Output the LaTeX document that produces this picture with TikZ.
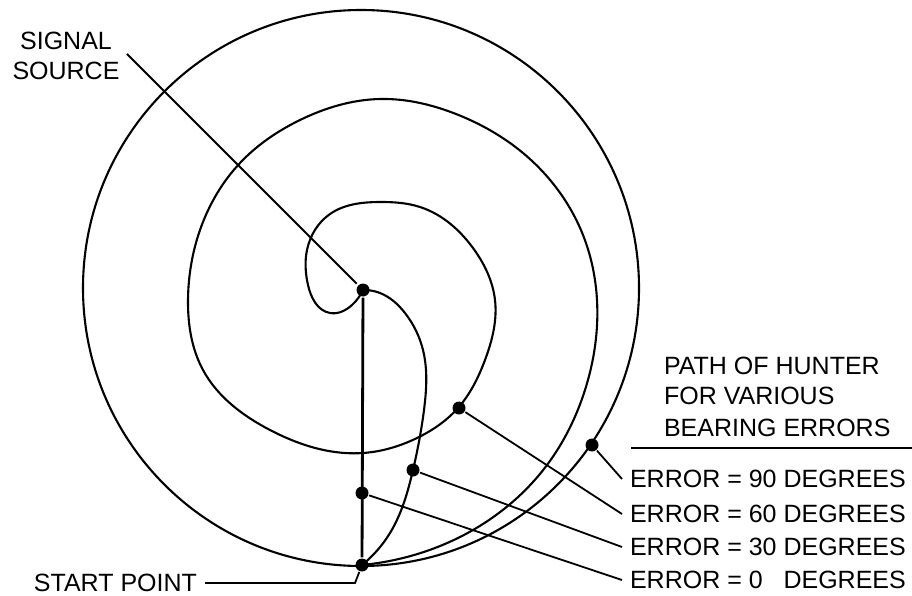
\documentclass[tikz,border=0pt]{standalone}
\usepackage{fontspec}
\setmainfont{Liberation Sans}
\usetikzlibrary{hobby}
\begin{document}
\begin{tikzpicture}[x=1pt,y=-1pt,line width=2.1pt,
  dot/.style={circle,fill=black,draw=none,inner sep=0pt,minimum size=13pt},
  txt/.style={font=\fontsize{25}{30}\selectfont,inner sep=0pt},
  lbl/.style={txt,inner xsep=7pt,anchor=west},
  hpath/.style={line width=2.1pt,line join=round},
  lead/.style={line width=1.8pt}]
\useasboundingbox (0,0) rectangle (912,596);

% dots
\node[dot] (src) at (363,290) {};
\node[dot] (start) at (362,565) {};
\node[dot] (d0) at (362,493) {};
\node[dot] (d30) at (413,470) {};
\node[dot] (d60) at (459,408) {};
\node[dot] (d90) at (592,445) {};

% 90 degree path: circle round the source
\draw[hpath] (361,288) circle[radius=278pt];

% 60 degree path
\draw[hpath] (362,565) to[curve through={
 (403,558) (473,530) (547,465)
 (585,390) (597,300) (583,235)
 (523,153) (456,114) (380,99) (300,120)
 (240,163) (200,230) (188,300) (203,370)
 (270,430) (363,453) (417,438) (458,408) (485,360)
 (495,300) (473,248) (420,207) (380,202)
 (330,214) (307,250) (308,285) (330,313)
 (352,305)}] (363,290);

% 30 degree path
\draw[hpath] (362,565) to[curve through={
 (390,533) (413,470) (424,410)
 (423,350) (405,313) (380,293)}] (363,290);

% 0 degree path
\draw[line width=2.8pt] (start) -- (src);

% labels
\node[txt,anchor=base,align=center] (sig) at (66,80) {SIGNAL\\SOURCE};
\coordinate (sigl) at (127,54);
\draw[lead,shorten >=9pt] (sigl) -- (src.center);

\node[txt,anchor=east,inner xsep=7pt] (lst) at (205,583) {START POINT};
\draw[lead] (lst.east) -- (355,583) -- (start);

\node[txt,anchor=base west] (h1) at (663,374) {PATH OF HUNTER};
\node[txt,anchor=base west] (h2) at (663,404) {FOR VARIOUS};
\node[txt,anchor=base west] (h3) at (663,436) {BEARING ERRORS};
\coordinate (rl) at (631,448);
\coordinate (rr) at (912,448);
\draw[lead] (rl) -- (rr);

\node[lbl] (l90) at (622,479) {ERROR = 90 DEGREES};
\node[lbl] (l60) at (622,514) {ERROR = 60 DEGREES};
\node[lbl] (l30) at (622,547) {ERROR = 30 DEGREES};
\node[lbl] (l0)  at (622,580) {ERROR = 0\phantom{0} DEGREES};

\draw[lead] (d90) -- (l90.west);
\draw[lead] (d60) -- (l60.west);
\draw[lead] (d30) -- (l30.west);
\draw[lead] (d0) -- (l0.west);
\end{tikzpicture}
\end{document}
